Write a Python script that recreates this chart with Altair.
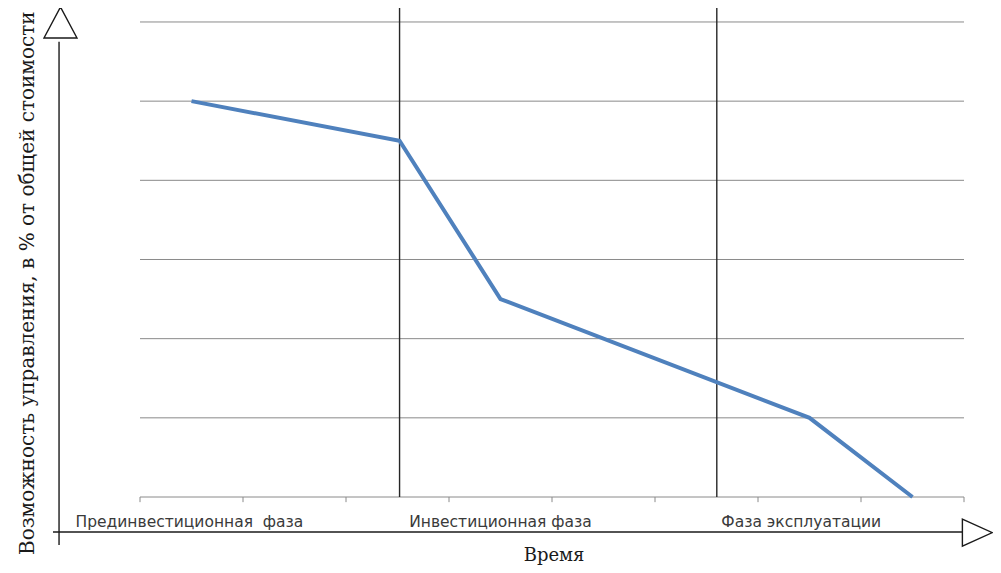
import altair as alt
import pandas as pd

# ---- data ----
line_x = [0.5, 2.52, 3.5, 6.5, 7.5]
line_y = [5.0, 4.5, 2.5, 1.0, 0.0]

grid_y = [1, 2, 3, 4, 5, 6]
tick_x = [0, 1, 2, 3, 4, 5, 6, 7, 8]
phase_x = [2.52, 5.6]

phase_labels = ["Прединвестиционная\u00a0\u00a0фаза", "Инвестиционная фаза", "Фаза эксплуатации"]
phase_label_x = [0.48, 3.5, 6.42]

y_title = "Возможность управления, в % от общей стоимости"
x_title = "Время"

# ---- scales: plot area covers the whole page ----
W, H = 985, 557
px_per_x = 103.0
px_per_y = 79.17
x0_px, y0_px = 140 - 8, 497 - 8  # pixel position of data origin inside svg
xdom = [-x0_px / px_per_x, (W - x0_px) / px_per_x]
ydom = [(y0_px - H) / px_per_y, y0_px / px_per_y]

X = lambda f="x": alt.X(f"{f}:Q", scale=alt.Scale(domain=xdom, nice=False, zero=False), axis=None)
Y = lambda f="y": alt.Y(f"{f}:Q", scale=alt.Scale(domain=ydom, nice=False, zero=False), axis=None)

grid_df = pd.DataFrame({"y": grid_y, "x": 0, "x2": 8})
grid = alt.Chart(grid_df).mark_rule(color="#8a8a8a", strokeWidth=1).encode(
    x=X(), x2="x2:Q", y=Y())

base_df = pd.DataFrame({"y": [0], "x": [0], "x2": [8]})
baseline = alt.Chart(base_df).mark_rule(color="#8a8a8a", strokeWidth=1).encode(
    x=X(), x2="x2:Q", y=Y())

ticks_df = pd.DataFrame({"x": tick_x, "y": 0.0, "y2": -0.065})
ticks = alt.Chart(ticks_df).mark_rule(color="#8a8a8a", strokeWidth=1).encode(
    x=X(), y=Y(), y2="y2:Q")

vl_df = pd.DataFrame({"x": phase_x, "y": 0.0, "y2": 6.2})
vlines = alt.Chart(vl_df).mark_rule(color="#262626", strokeWidth=1.4).encode(
    x=X(), y=Y(), y2="y2:Q")

line_df = pd.DataFrame({"x": line_x, "y": line_y})
line = alt.Chart(line_df).mark_line(color="#4F81BD", strokeWidth=4, strokeJoin="miter").encode(
    x=X(), y=Y())

lab_df = pd.DataFrame({"x": phase_label_x, "y": -0.316, "t": phase_labels})
labels = alt.Chart(lab_df).mark_text(font="DejaVu Sans", fontSize=15.5, color="#3a3a3a",
                                     align="center", baseline="middle").encode(
    x=X(), y=Y(), text="t:N")

# arrow axes
vax_df = pd.DataFrame({"x": [-0.786], "y": [-0.606], "y2": [5.75]})
vax = alt.Chart(vax_df).mark_rule(color="#1a1a1a", strokeWidth=1.4).encode(
    x=X(), y=Y(), y2="y2:Q")
hax_df = pd.DataFrame({"y": [-0.442], "x": [-0.845], "x2": [7.99]})
hax = alt.Chart(hax_df).mark_rule(color="#1a1a1a", strokeWidth=1.4).encode(
    x=X(), x2="x2:Q", y=Y())

up_df = pd.DataFrame({"x": [-0.772], "y": [5.993]})
up = alt.Chart(up_df).mark_point(shape="M0,-0.94L1,0.94L-1,0.94Z", size=1089, filled=False,
                                 fill="white", fillOpacity=1, stroke="#1a1a1a",
                                 strokeWidth=1.4, opacity=1).encode(x=X(), y=Y())
right_df = pd.DataFrame({"x": [8.13], "y": [-0.45]})
right = alt.Chart(right_df).mark_point(shape="M-1,-0.9L1,0L-1,0.9Z", size=900, filled=False,
                                       fill="white", fillOpacity=1, stroke="#1a1a1a",
                                       strokeWidth=1.4, opacity=1).encode(x=X(), y=Y())

yt_df = pd.DataFrame({"x": [-1.087], "y": [2.70], "t": [y_title]})
ytitle = alt.Chart(yt_df).mark_text(font="DejaVu Serif", fontSize=20, color="#1a1a1a",
                                    angle=270, align="center", baseline="middle").encode(
    x=X(), y=Y(), text="t:N")

xt_df = pd.DataFrame({"x": [4.02], "y": [-0.81], "t": [x_title]})
xtitle = alt.Chart(xt_df).mark_text(font="DejaVu Serif", fontSize=18, color="#1a1a1a",
                                    align="center", baseline="alphabetic").encode(
    x=X(), y=Y(), text="t:N")

chart = alt.layer(grid, baseline, ticks, vlines, line, labels, vax, hax, up, right,
                  ytitle, xtitle).properties(
    width=W, height=H, padding=0, autosize=alt.AutoSizeParams(type="none"),
    background="white"
).configure_view(stroke=None)

chart.save("out.html", embed_options={"renderer": "svg", "actions": False})
